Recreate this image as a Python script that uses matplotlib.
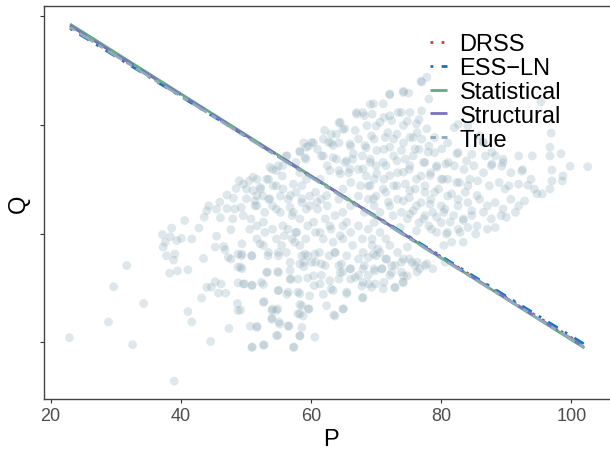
import matplotlib.pyplot as plt
import numpy as np

plt.rcParams['font.family'] = ['Liberation Sans', 'DejaVu Sans']

P_left = [22.9, 31.7, 29.7, 34.3, 28.9, 32.6, 39.0, 40.6, 38.6, 37.2, 37.6, 37.3, 38.4, 39.4, 40.1, 41.7,
          39.1, 37.8, 38.9, 38.3, 39.5, 41.1, 42.8, 43.6, 44.0, 44.3, 45.5, 45.3, 43.5, 46.1, 45.5, 46.0,
          47.1, 47.1, 48.1, 48.3, 47.7, 48.0, 46.6, 46.8, 47.3, 47.7, 45.3, 44.0, 44.7, 46.2, 45.8, 46.9,
          43.2, 41.1, 41.7, 47.4, 44.6, 48.7, 48.8, 48.8, 48.8, 48.8, 48.5, 49.0, 49.6, 49.3, 49.2, 49.3,
          49.8, 49.2]
Q_left = [20.8, 34.1, 30.2, 27.1, 23.7, 19.5, 12.8, 42.4, 41.0, 39.8, 38.4, 37.5, 39.4, 38.7, 39.1, 39.0,
          36.2, 35.9, 35.1, 32.7, 33.1, 33.3, 41.0, 43.0, 44.2, 45.1, 39.5, 37.5, 35.4, 42.9, 44.5, 45.8,
          47.1, 44.6, 46.5, 44.5, 40.7, 42.7, 37.6, 37.0, 35.6, 35.3, 31.1, 30.1, 30.1, 30.7, 29.0, 29.0,
          28.1, 25.6, 23.7, 22.5, 20.1, 27.1, 25.8, 36.2, 33.8, 30.9, 48.3, 49.7, 49.1, 44.8, 33.8, 35.9,
          30.7, 25.9]

P_mid = [50.9, 51.0, 52.7, 52.8, 50.7, 51.7, 51.0, 52.8, 54.9, 57.4, 58.3, 54.0, 55.1, 54.1, 54.9, 56.6,
         58.3, 58.3, 59.7, 58.3, 56.9, 55.0, 56.5, 53.3, 54.9, 56.8, 58.9, 59.5,
         50.5, 51.1, 51.7, 52.3, 53.5, 54.1, 55.0, 56.2, 55.6, 54.7, 53.5, 51.7, 50.8, 52.9, 54.1, 55.3,
         56.5, 57.7, 58.6, 58.3, 57.7, 59.2, 58.3, 59.6, 58.9, 51.7, 52.9, 54.1, 54.7, 55.9, 56.5, 57.1,
         57.7, 58.3, 59.2, 59.5, 58.3, 57.1, 56.2, 55.0, 53.5, 51.7, 58.6, 59.5, 58.9, 56.8, 58.6, 59.8,
         59.8, 55.3, 52.6, 51.4]
Q_mid = [35.9, 30.5, 30.6, 27.5, 22.9, 22.9, 19.1, 19.5, 21.2, 19.1, 21.1, 24.4, 23.7, 26.1, 26.1, 22.9,
         25.2, 26.9, 26.1, 28.9, 31.6, 29.5, 29.2, 32.9, 33.0, 33.2, 33.9, 31.8,
         49.7, 47.9, 50.0, 48.2, 50.0, 51.8, 52.5, 54.3, 50.6, 48.8, 46.3, 45.1, 42.7, 43.9, 45.1, 43.9,
         46.3, 47.6, 48.8, 51.2, 53.1, 53.7, 55.2, 56.1, 56.7, 41.4, 40.2, 40.8, 39.0, 39.6, 40.8, 39.0,
         40.2, 37.8, 39.0, 41.4, 42.7, 43.3, 36.5, 36.5, 36.5, 39.0, 35.9, 35.9, 34.7, 44.8, 45.7, 45.1,
         46.9, 46.9, 46.9, 46.0]

P_core = [67.0, 64.5, 62.1, 63.9, 65.2, 66.8, 60.1, 59.3, 62.7, 63.4, 66.0, 58.3, 59.1, 61.6, 63.9, 65.5,
          66.5, 56.3, 55.7, 53.7, 54.7, 53.2, 51.1, 50.1, 52.2, 54.2, 55.7, 57.3, 59.3, 61.4, 62.9, 64.5,
          66.0, 50.1, 51.7, 53.7, 56.8, 58.6, 60.9, 62.4, 51.4, 54.7, 57.3, 59.3, 49.6, 52.7, 55.7, 60.4,
          62.9, 65.5, 50.6, 57.8, 61.4, 64.5,
          49.4, 50.9, 52.7, 53.4, 55.0, 56.8, 58.3, 60.1, 61.6, 49.4, 53.2, 55.0, 56.8, 58.0, 60.4, 61.4,
          62.9, 49.6, 50.9, 52.4, 55.0, 56.3, 58.0, 59.8, 61.9, 63.4, 65.5, 52.7, 58.6, 59.6, 62.4, 65.0,
          54.0, 54.7, 58.0, 58.8, 63.7, 54.0, 55.2, 56.5, 58.6, 51.7, 54.7, 58.3, 60.6, 50.9, 52.7, 57.3,
          52.2, 55.5, 57.5, 59.1, 60.6, 63.7, 64.7, 66.0, 66.8, 64.5, 49.4]
Q_core = [62.3, 60.5, 59.0, 58.3, 59.3, 59.0, 56.8, 55.9, 56.8, 56.2, 56.5, 55.0, 54.0, 54.3, 53.7, 53.4,
          54.7, 54.3, 52.5, 52.2, 51.6, 50.0, 50.4, 48.2, 48.5, 48.8, 48.2, 49.1, 50.0, 50.0, 51.6, 51.0,
          51.9, 46.4, 47.0, 46.4, 47.0, 46.4, 45.8, 47.0, 45.1, 44.5, 43.9, 44.5, 43.3, 42.1, 41.4, 42.1,
          41.4, 42.1, 40.8, 40.2, 40.2, 39.6,
          36.2, 35.9, 37.8, 35.9, 35.9, 34.7, 34.4, 34.7, 34.4, 33.5, 32.8, 32.8, 31.6, 31.6, 32.2, 30.7,
          31.3, 30.7, 30.4, 31.0, 29.5, 28.8, 29.2, 28.5, 28.8, 29.5, 29.2, 27.3, 26.7, 26.1, 26.7, 26.1,
          25.8, 25.8, 25.2, 24.8, 24.8, 24.2, 23.3, 23.0, 22.7, 22.7, 21.2, 21.2, 20.9, 19.0, 19.4, 19.0,
          38.1, 37.8, 38.4, 36.2, 36.2, 36.5, 34.4, 33.5, 31.9, 32.8, 38.1]

P_sixties = [64.3, 64.9, 67.0, 68.2, 69.1, 69.4, 70.0, 63.1, 61.9, 60.4, 61.0, 63.1, 64.3, 66.1, 67.3, 68.5,
             69.7, 61.9, 63.4, 65.2, 66.4, 67.9, 69.1, 70.0, 62.5, 64.3, 65.8, 67.3, 68.5, 69.7, 66.1, 67.6,
             69.1, 64.9, 67.3, 68.8, 70.0,
             60.7, 61.6, 61.0, 62.5, 63.7, 64.9, 62.2, 63.1, 64.9, 66.1, 67.3, 68.8, 69.7, 60.7, 61.9, 63.4,
             64.9, 66.4, 67.9, 69.4, 61.3, 62.8, 63.7, 65.5, 67.3, 68.8, 70.0, 60.7, 62.2, 64.3, 66.1, 68.2,
             69.7, 61.6, 63.1, 63.5, 64.9, 65.5, 67.9, 67.8, 68.9, 69.9, 60.5, 64.3, 66.1, 67.3, 68.8, 64.9,
             69.4, 66.1, 64.3, 68.2, 69.7]
Q_sixties = [60.4, 59.2, 62.0, 61.7, 63.8, 62.0, 59.8, 58.3, 57.4, 56.7, 55.5, 56.7, 56.7, 56.1, 57.4, 55.8,
             57.4, 54.3, 54.0, 53.1, 53.7, 54.3, 53.1, 52.5, 52.5, 51.6, 51.2, 51.8, 50.6, 50.0, 49.4, 48.8,
             48.8, 48.2, 46.9, 46.3, 46.9,
             47.6, 46.3, 44.5, 45.1, 43.3, 43.9, 42.7, 40.8, 41.4, 40.2, 41.4, 40.8, 42.0, 40.2, 39.0, 38.4,
             39.0, 37.8, 39.0, 37.8, 36.5, 35.9, 36.5, 35.9, 35.3, 35.6, 35.9, 34.7, 34.1, 34.1, 33.5, 34.1,
             33.5, 32.3, 29.8, 25.0, 26.1, 28.9, 28.1, 30.3, 30.7, 30.7, 30.4, 31.6, 31.6, 32.3, 32.3, 32.9,
             39.0, 45.1, 46.3, 43.9, 45.1]

P_seventies = [77.0, 74.2, 72.1, 69.6, 71.1, 68.0, 73.4, 75.2, 77.0, 68.6, 70.6, 72.4, 74.2, 76.2, 77.8, 69.3,
               71.4, 73.2, 75.2, 77.0, 79.0, 68.3, 70.1, 72.1, 73.9, 76.0, 78.0, 80.1, 82.4, 69.1, 71.1, 73.2,
               75.2, 77.3, 79.3, 81.1, 83.9, 68.0, 70.1, 72.1, 74.2, 76.2, 78.3, 80.3, 82.4, 84.4, 68.8, 71.1,
               73.2, 75.2, 77.5, 79.6, 81.6, 83.7, 85.5, 69.6, 71.9, 74.2, 76.2, 78.3, 80.6, 82.6, 84.7, 70.6,
               72.6, 75.2, 77.3, 79.3, 81.4, 83.4, 85.5, 73.7, 76.2, 78.5, 80.8, 82.9,
               68.0, 69.6, 70.3, 71.6, 72.9, 74.2, 75.5, 76.7, 77.8, 68.0, 69.8, 70.9, 72.4, 74.2, 68.0, 69.3,
               71.1, 72.9, 74.2, 68.0]
Q_seventies = [67.9, 66.0, 65.7, 63.9, 63.9, 62.3, 62.3, 62.3, 62.6, 59.9, 60.5, 60.8, 59.9, 60.2, 59.3, 58.0,
               57.7, 58.3, 57.7, 57.4, 57.7, 56.2, 55.3, 55.9, 55.3, 55.6, 55.0, 55.6, 54.7, 53.7, 53.1, 53.4,
               52.5, 53.1, 52.2, 53.1, 53.4, 51.9, 51.0, 50.7, 51.3, 50.0, 50.7, 50.0, 49.4, 50.0, 48.8, 48.2,
               48.8, 47.9, 47.6, 48.2, 47.3, 47.6, 47.0, 46.4, 45.8, 46.0, 45.1, 45.4, 44.5, 45.1, 44.2, 43.9,
               43.3, 43.6, 42.7, 43.0, 42.1, 42.4, 41.4, 41.1, 40.5, 40.8, 39.9, 40.2,
               36.5, 36.2, 37.1, 35.3, 34.1, 35.3, 34.7, 33.5, 34.4, 33.5, 33.1, 33.5, 32.8, 32.2, 31.0, 30.1,
               29.8, 30.1, 31.0, 28.2]

P_upper = [72.1, 74.2, 75.0, 71.2, 72.1, 73.9, 74.8, 76.6, 76.3, 71.8, 72.7, 74.2, 75.7, 76.6, 78.1, 79.0,
           71.2, 72.7, 74.5, 75.7, 77.5, 79.3, 71.5, 73.3, 75.1, 76.9, 78.4, 80.0, 71.2, 72.7, 74.5, 76.0,
           77.5, 79.0, 71.5, 73.3, 75.1, 76.9, 78.4, 80.0, 72.1, 73.9, 75.7, 77.5, 78.7, 74.8, 76.6, 78.1,
           79.3, 80.0,
           70.6, 71.5, 72.1, 73.3, 74.8, 70.6, 71.5, 72.4, 73.9, 75.1, 76.3, 77.5, 78.7, 70.9, 72.1, 73.9,
           72.9, 74.1, 74.8, 76.3, 76.0, 71.2]
Q_upper = [65.6, 66.2, 65.9, 61.4, 61.7, 62.3, 60.7, 61.0, 58.6, 58.6, 57.4, 56.7, 57.7, 55.5, 56.1, 54.9,
           55.5, 54.3, 53.7, 54.3, 53.1, 52.5, 52.5, 51.2, 51.8, 50.6, 51.2, 50.0, 50.0, 48.8, 49.1, 48.2,
           48.8, 47.6, 47.6, 46.3, 46.6, 45.7, 46.3, 45.1, 45.1, 43.9, 44.2, 43.3, 43.9, 42.7, 42.0, 41.4,
           40.2, 42.0,
           40.2, 39.0, 37.8, 36.5, 37.5, 36.5, 35.3, 34.1, 34.7, 35.3, 34.7, 34.1, 33.5, 33.5, 32.3, 32.9,
           30.0, 31.0, 32.2, 32.9, 34.1, 31.0]

P_right = [76.9, 77.8, 78.1, 82.0, 82.6, 84.1, 85.9, 86.5, 81.0, 82.6, 84.7, 86.8, 88.3, 89.5, 80.7, 82.0,
           83.5, 85.0, 86.5, 87.7, 81.0, 82.8, 84.1, 85.6, 87.4, 88.9, 89.8, 81.0, 82.6, 84.1, 85.9, 87.1,
           88.3, 89.5, 80.4, 81.9, 83.4, 84.7, 86.5, 87.7, 89.2, 81.0, 82.6, 84.1, 85.3, 87.1, 88.3, 80.4,
           81.6, 83.4, 80.6,
           90.7, 92.5, 94.0, 96.7, 90.4, 91.9, 94.3, 90.7, 91.9, 92.8, 91.4, 90.0, 95.3,
           96.9, 96.7, 98.4, 99.8, 102.5, 97.0, 98.7, 98.6, 97.0, 96.7, 95.5, 94.7, 93.8, 93.3, 92.4, 91.9,
           89.5, 89.3, 87.8, 87.8, 86.4]
Q_right = [68.1, 68.8, 64.8, 59.5, 60.1, 59.8, 58.0, 56.7, 56.7, 54.9, 54.6, 54.3, 54.3, 53.1, 52.8, 52.5,
           51.8, 52.5, 51.2, 52.5, 50.0, 49.4, 48.8, 49.7, 48.8, 49.4, 48.2, 46.9, 46.3, 45.7, 46.3, 45.1,
           45.7, 44.5, 43.9, 43.3, 42.7, 43.3, 43.9, 42.7, 43.3, 40.2, 40.8, 41.1, 39.9, 40.8, 41.1, 37.8,
           38.4, 38.4, 34.7,
           51.2, 51.8, 54.3, 54.3, 48.8, 49.1, 48.2, 46.3, 45.1, 46.0, 43.9, 43.0, 64.3,
           58.5, 55.9, 54.7, 52.4, 52.3, 51.7, 50.6, 49.7, 49.7, 48.2, 47.3, 47.3, 50.0, 48.9, 51.5, 54.3,
           53.7, 52.4, 52.8, 55.0, 56.9]

# fitted demand lines Q = a + b * P
methods = ['DRSS', 'ESS\u2212LN', 'Statistical', 'Structural', 'True']
intercepts = [95.35, 94.74, 95.98, 95.54, 95.18]
slopes = [-0.7456, -0.7367, -0.7557, -0.7494, -0.7468]
P_range = [23.0, 102.0]

colors = ['#c8432f', '#0d77c4', '#66ab7f', '#7a72c0', '#8eaabb']
styles = [(0, (1, 3)), (0, (1, 3, 4, 3)), '-', (0, (7, 3)), (0, (2, 2, 6, 2))]

P_all = P_left + P_mid + P_core + P_sixties + P_seventies + P_upper + P_right
Q_all = Q_left + Q_mid + Q_core + Q_sixties + Q_seventies + Q_upper + Q_right

fig = plt.figure(figsize=(6.1, 4.56), dpi=100)
ax = fig.add_axes([44 / 610, 56 / 456, (617 - 44) / 610, (400 - 7) / 456])

ax.scatter(P_all, Q_all, s=40, color='#8aa9b8', alpha=0.28, edgecolors='none', zorder=1)

xs = np.array(P_range)
for name, a, b, col, ls in zip(methods, intercepts, slopes, colors, styles):
    ax.plot(xs, a + b * xs, color=col, ls=ls, lw=2.0, label=name, zorder=2,
            solid_capstyle='butt', dash_capstyle='butt')

ax.set_xlim(19, 107)
ax.set_ylim(9.5, 81.93)
ax.set_xticks([20, 40, 60, 80, 100])
ax.set_yticks([20, 40, 60, 80])
ax.set_yticklabels([])
ax.tick_params(length=3, width=0.8, color='#333333', labelsize=13, labelcolor='#4d4d4d', pad=3)
for s in ax.spines.values():
    s.set_color('#444444')
    s.set_linewidth(1.0)

ax.set_xlabel('P', fontsize=17, labelpad=3)
ax.set_ylabel('Q', fontsize=17, labelpad=4)

ax.legend(loc='upper left', bbox_to_anchor=(430 / 610, 1 - 34 / 456), bbox_transform=fig.transFigure,
          fontsize=17, frameon=False, handlelength=0.7, handletextpad=0.55, labelspacing=0.08,
          borderpad=0, borderaxespad=0)

fig.savefig('out.png', dpi=100)
